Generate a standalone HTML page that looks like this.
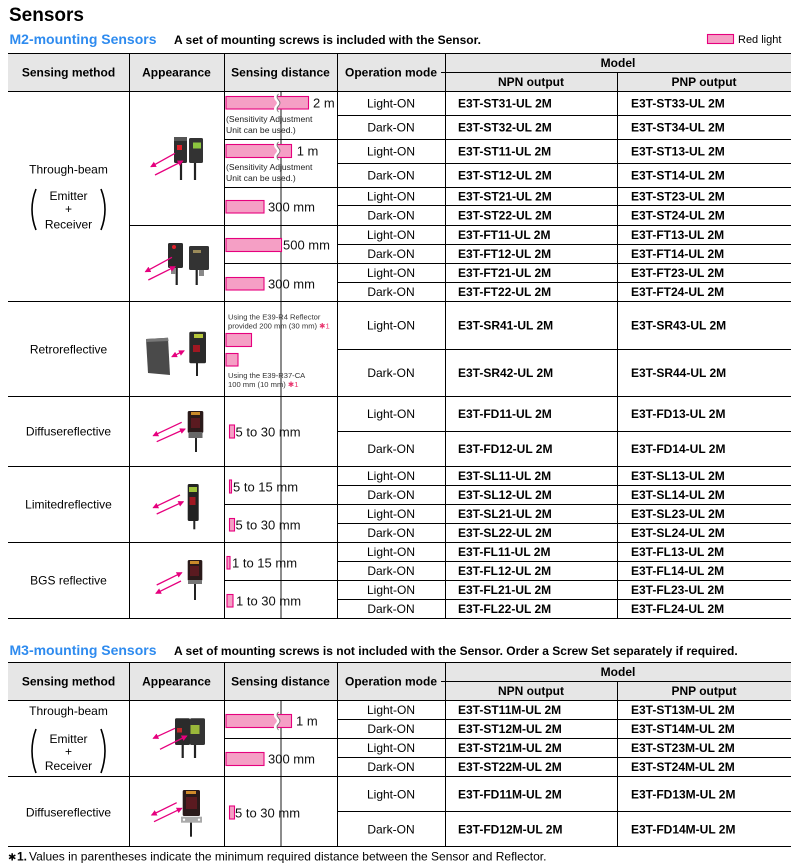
<!DOCTYPE html>
<html><head><meta charset="utf-8">
<style>
html,body{margin:0;padding:0;background:#fff;}
svg{display:block;}
text{font-family:"Liberation Sans",Arial,sans-serif;fill:#000;}
.b{font-weight:bold;}
.h{font-weight:bold;font-size:12px;}
.m{font-weight:bold;font-size:12px;}
.o{font-size:12px;text-anchor:middle;}
.s{font-size:12px;text-anchor:middle;}
.d{font-size:13px;fill:#111;}
.n{font-size:8.6px;fill:#222;}
.r{font-size:7.6px;fill:#333;}
.bar{fill:#f59fc5;stroke:#e6007e;stroke-width:1.1;}
.ar{stroke:#e6007e;stroke-width:1.3;fill:none;}
</style></head><body>
<svg width="800" height="865" viewBox="0 0 800 865" xmlns="http://www.w3.org/2000/svg">
<defs>
<marker id="ah" markerWidth="6" markerHeight="6" refX="5" refY="3" orient="auto" markerUnits="userSpaceOnUse"><path d="M0,0 L6,3 L0,6 z" fill="#e6007e"/></marker>
<marker id="as" markerWidth="6" markerHeight="6" refX="1" refY="3" orient="auto" markerUnits="userSpaceOnUse"><path d="M6,0 L0,3 L6,6 z" fill="#e6007e"/></marker>
</defs>

<!-- Titles -->
<text x="9" y="21" class="b" font-size="19">Sensors</text>
<text x="9.5" y="44" class="b" font-size="14" style="fill:#2e8bef">M2-mounting Sensors</text>
<text x="174" y="44" class="b" font-size="12">A set of mounting screws is included with the Sensor.</text>
<rect x="707.5" y="34.5" width="26" height="9" class="bar"/>
<text x="738" y="43" font-size="11">Red light</text>

<!-- header backgrounds -->
<rect x="8" y="53" width="783" height="38" fill="#e6e6e6"/>
<rect x="8" y="662" width="783" height="38" fill="#e6e6e6"/>

<!-- gray reference lines -->
<rect x="280" y="92" width="2" height="526" fill="#8c8c8c"/>
<rect x="280" y="701" width="2" height="145" fill="#8c8c8c"/>

<!-- table lines -->
<path shape-rendering="crispEdges" stroke="#000" stroke-width="1" fill="none" d="
M8 53.5H791 M445 72.5H791 M441 72.5H445 M8 91.5H791
M337 115.5H791 M224 139.5H791 M337 163.5H791 M224 187.5H791 M337 205.5H791
M129 225.5H791 M337 244.5H791 M224 263.5H791 M337 282.5H791
M8 301.5H791 M337 349.5H791 M8 396.5H791 M337 431.5H791 M8 466.5H791
M337 485.5H791 M224 504.5H791 M337 523.5H791 M8 542.5H791
M337 561.5H791 M224 580.5H791 M337 599.5H791 M8 618.5H791
M129.5 53V619 M224.5 53V619 M337.5 53V619 M445.5 53V619 M617.5 72V619
M8 662.5H791 M445 681.5H791 M441 681.5H445 M8 700.5H791
M337 719.5H791 M224 738.5H791 M337 757.5H791 M8 776.5H791 M337 811.5H791 M8 846.5H791
M129.5 662V847 M224.5 662V847 M337.5 662V847 M445.5 662V847 M617.5 681V847
"/>

<!-- header texts top -->
<text x="68.5" y="76.3" class="h" text-anchor="middle">Sensing method</text>
<text x="176.5" y="76.3" class="h" text-anchor="middle">Appearance</text>
<text x="280.5" y="76.3" class="h" text-anchor="middle">Sensing distance</text>
<text x="391" y="76.3" class="h" text-anchor="middle">Operation mode</text>
<text x="618" y="67" class="h" text-anchor="middle">Model</text>
<text x="531" y="86" class="h" text-anchor="middle">NPN output</text>
<text x="704" y="86" class="h" text-anchor="middle">PNP output</text>

<!-- header texts bottom -->
<text x="68.5" y="685.3" class="h" text-anchor="middle">Sensing method</text>
<text x="176.5" y="685.3" class="h" text-anchor="middle">Appearance</text>
<text x="280.5" y="685.3" class="h" text-anchor="middle">Sensing distance</text>
<text x="391" y="685.3" class="h" text-anchor="middle">Operation mode</text>
<text x="618" y="676" class="h" text-anchor="middle">Model</text>
<text x="531" y="695" class="h" text-anchor="middle">NPN output</text>
<text x="704" y="695" class="h" text-anchor="middle">PNP output</text>

<!-- Sensing method labels top -->
<text x="68.5" y="173.3" class="s">Through-beam</text>
<text x="68.5" y="200" class="s">Emitter</text>
<text x="68.5" y="213" class="s">+</text>
<text x="68.5" y="228.3" class="s">Receiver</text>
<path d="M36 189 Q28 209.5 36 230 M101 189 Q109 209.5 101 230" stroke="#000" stroke-width="1.6" fill="none"/>
<text x="68.5" y="353.3" class="s">Retroreflective</text>
<text x="68.5" y="435.3" class="s">Diffusereflective</text>
<text x="68.5" y="508.3" class="s">Limitedreflective</text>
<text x="68.5" y="584.3" class="s">BGS reflective</text>

<!-- Sensing method labels bottom -->
<text x="68.5" y="715" class="s">Through-beam</text>
<text x="68.5" y="743" class="s">Emitter</text>
<text x="68.5" y="755.5" class="s">+</text>
<text x="68.5" y="770" class="s">Receiver</text>
<path d="M36 729 Q28 751 36 773 M101 729 Q109 751 101 773" stroke="#000" stroke-width="1.6" fill="none"/>
<text x="68.5" y="816.3" class="s">Diffusereflective</text>

<!-- Operation mode + model rows top -->
<g>
<text x="391" y="107.3" class="o">Light-ON</text><text x="458" y="107.3" class="m">E3T-ST31-UL 2M</text><text x="631" y="107.3" class="m">E3T-ST33-UL 2M</text>
<text x="391" y="131.3" class="o">Dark-ON</text><text x="458" y="131.3" class="m">E3T-ST32-UL 2M</text><text x="631" y="131.3" class="m">E3T-ST34-UL 2M</text>
<text x="391" y="155.3" class="o">Light-ON</text><text x="458" y="155.3" class="m">E3T-ST11-UL 2M</text><text x="631" y="155.3" class="m">E3T-ST13-UL 2M</text>
<text x="391" y="179.3" class="o">Dark-ON</text><text x="458" y="179.3" class="m">E3T-ST12-UL 2M</text><text x="631" y="179.3" class="m">E3T-ST14-UL 2M</text>
<text x="391" y="200.3" class="o">Light-ON</text><text x="458" y="200.3" class="m">E3T-ST21-UL 2M</text><text x="631" y="200.3" class="m">E3T-ST23-UL 2M</text>
<text x="391" y="219.3" class="o">Dark-ON</text><text x="458" y="219.3" class="m">E3T-ST22-UL 2M</text><text x="631" y="219.3" class="m">E3T-ST24-UL 2M</text>
<text x="391" y="238.8" class="o">Light-ON</text><text x="458" y="238.8" class="m">E3T-FT11-UL 2M</text><text x="631" y="238.8" class="m">E3T-FT13-UL 2M</text>
<text x="391" y="257.8" class="o">Dark-ON</text><text x="458" y="257.8" class="m">E3T-FT12-UL 2M</text><text x="631" y="257.8" class="m">E3T-FT14-UL 2M</text>
<text x="391" y="276.8" class="o">Light-ON</text><text x="458" y="276.8" class="m">E3T-FT21-UL 2M</text><text x="631" y="276.8" class="m">E3T-FT23-UL 2M</text>
<text x="391" y="295.8" class="o">Dark-ON</text><text x="458" y="295.8" class="m">E3T-FT22-UL 2M</text><text x="631" y="295.8" class="m">E3T-FT24-UL 2M</text>
<text x="391" y="329.3" class="o">Light-ON</text><text x="458" y="329.3" class="m">E3T-SR41-UL 2M</text><text x="631" y="329.3" class="m">E3T-SR43-UL 2M</text>
<text x="391" y="376.8" class="o">Dark-ON</text><text x="458" y="376.8" class="m">E3T-SR42-UL 2M</text><text x="631" y="376.8" class="m">E3T-SR44-UL 2M</text>
<text x="391" y="417.8" class="o">Light-ON</text><text x="458" y="417.8" class="m">E3T-FD11-UL 2M</text><text x="631" y="417.8" class="m">E3T-FD13-UL 2M</text>
<text x="391" y="452.8" class="o">Dark-ON</text><text x="458" y="452.8" class="m">E3T-FD12-UL 2M</text><text x="631" y="452.8" class="m">E3T-FD14-UL 2M</text>
<text x="391" y="479.8" class="o">Light-ON</text><text x="458" y="479.8" class="m">E3T-SL11-UL 2M</text><text x="631" y="479.8" class="m">E3T-SL13-UL 2M</text>
<text x="391" y="498.8" class="o">Dark-ON</text><text x="458" y="498.8" class="m">E3T-SL12-UL 2M</text><text x="631" y="498.8" class="m">E3T-SL14-UL 2M</text>
<text x="391" y="517.8" class="o">Light-ON</text><text x="458" y="517.8" class="m">E3T-SL21-UL 2M</text><text x="631" y="517.8" class="m">E3T-SL23-UL 2M</text>
<text x="391" y="536.8" class="o">Dark-ON</text><text x="458" y="536.8" class="m">E3T-SL22-UL 2M</text><text x="631" y="536.8" class="m">E3T-SL24-UL 2M</text>
<text x="391" y="555.8" class="o">Light-ON</text><text x="458" y="555.8" class="m">E3T-FL11-UL 2M</text><text x="631" y="555.8" class="m">E3T-FL13-UL 2M</text>
<text x="391" y="574.8" class="o">Dark-ON</text><text x="458" y="574.8" class="m">E3T-FL12-UL 2M</text><text x="631" y="574.8" class="m">E3T-FL14-UL 2M</text>
<text x="391" y="593.8" class="o">Light-ON</text><text x="458" y="593.8" class="m">E3T-FL21-UL 2M</text><text x="631" y="593.8" class="m">E3T-FL23-UL 2M</text>
<text x="391" y="612.8" class="o">Dark-ON</text><text x="458" y="612.8" class="m">E3T-FL22-UL 2M</text><text x="631" y="612.8" class="m">E3T-FL24-UL 2M</text>
</g>

<!-- bottom rows -->
<text x="9.5" y="655" class="b" font-size="14" style="fill:#2e8bef">M3-mounting Sensors</text>
<text x="174" y="655" class="b" font-size="12">A set of mounting screws is not included with the Sensor. Order a Screw Set separately if required.</text>
<g>
<text x="391" y="713.8" class="o">Light-ON</text><text x="458" y="713.8" class="m">E3T-ST11M-UL 2M</text><text x="631" y="713.8" class="m">E3T-ST13M-UL 2M</text>
<text x="391" y="732.8" class="o">Dark-ON</text><text x="458" y="732.8" class="m">E3T-ST12M-UL 2M</text><text x="631" y="732.8" class="m">E3T-ST14M-UL 2M</text>
<text x="391" y="751.8" class="o">Light-ON</text><text x="458" y="751.8" class="m">E3T-ST21M-UL 2M</text><text x="631" y="751.8" class="m">E3T-ST23M-UL 2M</text>
<text x="391" y="770.8" class="o">Dark-ON</text><text x="458" y="770.8" class="m">E3T-ST22M-UL 2M</text><text x="631" y="770.8" class="m">E3T-ST24M-UL 2M</text>
<text x="391" y="798.3" class="o">Light-ON</text><text x="458" y="798.3" class="m">E3T-FD11M-UL 2M</text><text x="631" y="798.3" class="m">E3T-FD13M-UL 2M</text>
<text x="391" y="833.3" class="o">Dark-ON</text><text x="458" y="833.3" class="m">E3T-FD12M-UL 2M</text><text x="631" y="833.3" class="m">E3T-FD14M-UL 2M</text>
</g>

<!-- Sensing distance bars top -->
<rect x="226" y="96.5" width="82.5" height="12.5" class="bar"/>
<path d="M277 94 q-3 3 0 6 t0 6 t0 6" stroke="#fff" stroke-width="3" fill="none"/>
<path d="M278.5 94 q-3 3 0 6 t0 6 t0 6" stroke="#777" stroke-width="0.9" fill="none"/>
<text x="313" y="107.7" class="d">2 m</text>
<text x="226" y="122" class="n">(Sensitivity Adjustment</text>
<text x="226" y="133" class="n">Unit can be used.)</text>

<rect x="226" y="144.5" width="65.5" height="13" class="bar"/>
<path d="M277 142 q-3 3 0 6 t0 6 t0 6" stroke="#fff" stroke-width="3" fill="none"/>
<path d="M278.5 142 q-3 3 0 6 t0 6 t0 6" stroke="#777" stroke-width="0.9" fill="none"/>
<text x="296.7" y="155.7" class="d">1 m</text>
<text x="226" y="169.8" class="n">(Sensitivity Adjustment</text>
<text x="226" y="181" class="n">Unit can be used.)</text>

<rect x="226" y="200.5" width="38" height="12.5" class="bar"/>
<text x="268" y="211.5" class="d">300 mm</text>
<rect x="226" y="238.5" width="55.5" height="13" class="bar"/>
<text x="283" y="249.7" class="d">500 mm</text>
<rect x="226" y="277.5" width="38" height="12.5" class="bar"/>
<text x="268" y="288.5" class="d">300 mm</text>

<text x="228" y="319.5" class="r">Using the E39-R4 Reflector</text>
<text x="228" y="328.5" class="r">provided 200 mm (30 mm) <tspan style="fill:#e8336d">✱1</tspan></text>
<rect x="226" y="333.5" width="25.5" height="13" class="bar"/>
<rect x="226" y="353.5" width="12" height="12.5" class="bar"/>
<text x="228" y="377.8" class="r">Using the E39-R37-CA</text>
<text x="228" y="387" class="r">100 mm (10 mm) <tspan style="fill:#e8336d">✱1</tspan></text>

<rect x="229.5" y="425" width="5" height="13" class="bar"/>
<text x="235.5" y="436.4" class="d">5 to 30 mm</text>

<rect x="229.5" y="480" width="2" height="13" class="bar"/>
<text x="233" y="491.4" class="d">5 to 15 mm</text>
<rect x="229.5" y="518.5" width="5" height="12.5" class="bar"/>
<text x="235.5" y="529.4" class="d">5 to 30 mm</text>

<rect x="227" y="556.5" width="3" height="12.5" class="bar"/>
<text x="232" y="567.7" class="d">1 to 15 mm</text>
<rect x="227" y="594.5" width="6" height="12.5" class="bar"/>
<text x="236" y="605.4" class="d">1 to 30 mm</text>

<!-- Sensing distance bottom -->
<rect x="226" y="714.5" width="65.5" height="13" class="bar"/>
<path d="M277 712 q-3 3 0 6 t0 6 t0 6" stroke="#fff" stroke-width="3" fill="none"/>
<path d="M278.5 712 q-3 3 0 6 t0 6 t0 6" stroke="#777" stroke-width="0.9" fill="none"/>
<text x="296" y="725.5" class="d">1 m</text>
<rect x="226" y="752.5" width="38" height="13" class="bar"/>
<text x="268" y="763.5" class="d">300 mm</text>
<rect x="229.5" y="806" width="5" height="13" class="bar"/>
<text x="235" y="817.4" class="d">5 to 30 mm</text>

<!-- Appearance images -->
<!-- TB1 top -->
<g>
<path d="M181 160V180 M195 160V180" stroke="#222" stroke-width="2.2"/>
<rect x="174" y="137" width="13" height="26" rx="1.5" fill="#2e2e2e"/>
<rect x="174" y="137" width="13" height="4" fill="#555"/>
<rect x="177" y="145" width="5" height="5" fill="#e0202a"/>
<rect x="189" y="138" width="14" height="25" rx="1.5" fill="#333"/>
<rect x="193" y="142.5" width="8" height="6" fill="#8cc63f"/>
<line x1="175" y1="153.3" x2="151" y2="166.7" class="ar" marker-end="url(#ah)"/>
<line x1="155" y1="175" x2="182.7" y2="161" class="ar" marker-end="url(#ah)"/>
</g>
<!-- TB2 top -->
<g>
<path d="M176.7 266V285 M196.7 268V285" stroke="#222" stroke-width="2.2"/>
<rect x="168" y="243" width="15" height="25" rx="1.5" fill="#2b2b2b"/>
<circle cx="174" cy="247" r="2" fill="#e0202a"/>
<rect x="189" y="246" width="20" height="24" rx="1.5" fill="#333"/>
<rect x="193" y="250" width="8" height="3" fill="#9a8a5a"/>
<rect x="171" y="268" width="5" height="6" fill="#888"/>
<rect x="199" y="270" width="5" height="6" fill="#888"/>
<line x1="172" y1="257.3" x2="145.5" y2="271.7" class="ar" marker-end="url(#ah)"/>
<line x1="148.3" y1="280" x2="175" y2="266.7" class="ar" marker-end="url(#ah)"/>
</g>
<!-- Retro -->
<g>
<path d="M146 339 L168 337.7 L170 375 L148 373 Z" fill="#4a4a4a"/>
<path d="M146 339 L168 337.7 L168.5 341 L146.5 342 Z" fill="#777"/>
<path d="M197 362V376" stroke="#222" stroke-width="2"/>
<rect x="189.3" y="331.7" width="16.7" height="31.6" rx="1.5" fill="#2a2a2a"/>
<rect x="194" y="334" width="9" height="4" fill="#b5c63a"/>
<rect x="193" y="345" width="7" height="7" fill="#a01822"/>
<line x1="172" y1="356.7" x2="184" y2="350.8" class="ar" marker-start="url(#as)" marker-end="url(#ah)"/>
</g>
<!-- Diffuse top -->
<g>
<path d="M196 436V452" stroke="#222" stroke-width="2"/>
<rect x="187.7" y="411" width="15.6" height="22" rx="1.5" fill="#2a1a1a"/>
<rect x="191" y="412" width="9" height="3" fill="#c98a2a"/>
<rect x="191" y="418" width="9" height="10" fill="#5a1a20"/>
<rect x="188.5" y="432" width="14" height="6" fill="#666"/>
<line x1="181.7" y1="422.3" x2="153.3" y2="435.7" class="ar" marker-end="url(#ah)"/>
<line x1="156.7" y1="441.7" x2="185" y2="429" class="ar" marker-end="url(#ah)"/>
</g>
<!-- Limited -->
<g>
<path d="M194.3 520V529.3" stroke="#222" stroke-width="2"/>
<rect x="187.7" y="484" width="11" height="37" rx="1.5" fill="#222"/>
<rect x="189" y="487" width="8" height="5" fill="#9ec23a"/>
<rect x="189.5" y="497" width="6" height="8" fill="#a01822"/>
<line x1="180" y1="495" x2="153.3" y2="507.7" class="ar" marker-end="url(#ah)"/>
<line x1="156.7" y1="514" x2="183.3" y2="501.7" class="ar" marker-end="url(#ah)"/>
</g>
<!-- BGS -->
<g>
<path d="M195 580V600" stroke="#222" stroke-width="2"/>
<rect x="187.7" y="560" width="14.6" height="21" rx="1.5" fill="#2a1a1a"/>
<rect x="190" y="561" width="9" height="3" fill="#c98a2a"/>
<rect x="190" y="566" width="9" height="10" fill="#5a1a20"/>
<rect x="188" y="580" width="14" height="4" fill="#777"/>
<line x1="156.7" y1="585" x2="181.7" y2="572.7" class="ar" marker-end="url(#ah)"/>
<line x1="181" y1="581" x2="156" y2="593.3" class="ar" marker-end="url(#ah)"/>
</g>
<!-- TB bottom -->
<g>
<path d="M182.7 744V758 M195 744V758" stroke="#222" stroke-width="2.2"/>
<rect x="175" y="718.3" width="15" height="26.7" rx="1.5" fill="#2b2b2b"/>
<rect x="177" y="728" width="5" height="4.5" fill="#c0282a"/>
<rect x="190" y="718.3" width="15" height="26.7" rx="1.5" fill="#333"/>
<rect x="190.5" y="725" width="9" height="9" fill="#9ab83a"/>
<line x1="175" y1="728.3" x2="153.3" y2="738.3" class="ar" marker-end="url(#ah)"/>
<line x1="160" y1="749.3" x2="186.7" y2="736" class="ar" marker-end="url(#ah)"/>
</g>
<!-- Diffuse bottom -->
<g>
<path d="M191 821V836.7" stroke="#222" stroke-width="2"/>
<rect x="182.7" y="790" width="17.3" height="26" rx="1.5" fill="#2a1a1a"/>
<rect x="186" y="791" width="10" height="3" fill="#d08a2a"/>
<rect x="186" y="797" width="11" height="12" fill="#5a1a20"/>
<rect x="181" y="816.7" width="21" height="6" fill="#aaa"/>
<circle cx="184" cy="819.7" r="1.2" fill="#fff"/>
<circle cx="199" cy="819.7" r="1.2" fill="#fff"/>
<line x1="176.7" y1="802.7" x2="151.7" y2="815" class="ar" marker-end="url(#ah)"/>
<line x1="154" y1="821.7" x2="181.7" y2="808.3" class="ar" marker-end="url(#ah)"/>
</g>

<!-- footnote -->
<text x="8" y="860.5" font-size="12" class="b" style="font-family:'DejaVu Sans','Liberation Sans',sans-serif;font-size:10px">✱</text>
<text x="17" y="860.5" font-size="12" class="b">1.</text>
<text x="29" y="860.5" font-size="12">Values in parentheses indicate the minimum required distance between the Sensor and Reflector.</text>
</svg>
</body></html>
